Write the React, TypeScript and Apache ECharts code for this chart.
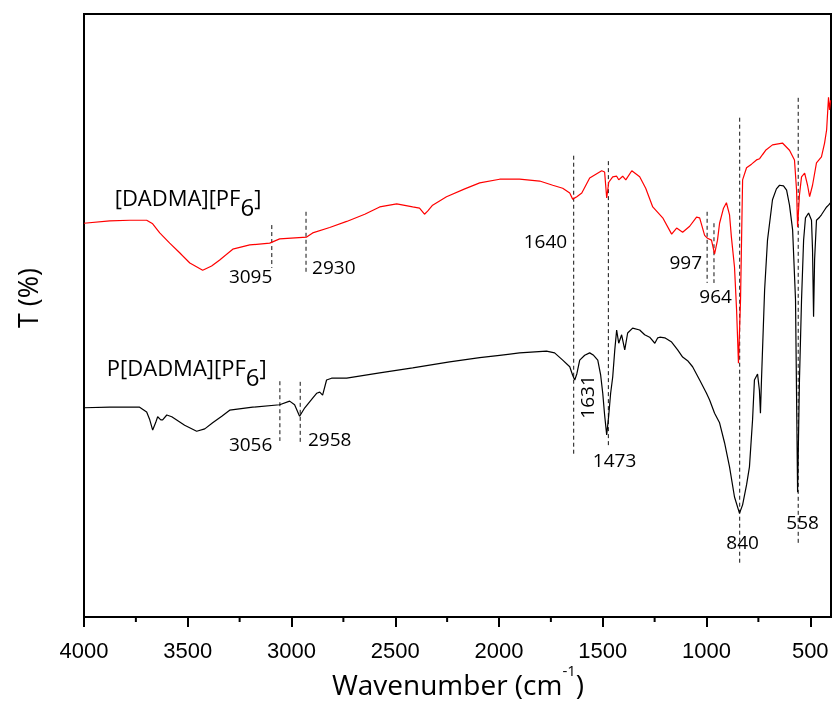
import React, { useEffect, useRef } from "react";
import * as echarts from "echarts";

// ---- Data (wavenumber in cm-1, transmittance in arbitrary %) ----
const redWave = [4000,3876,3779,3698,3669,3635,3587,3539,3490,3428,3385,3346,3283,3201,3105,3057,2927,2898,2816,2734,2647,2575,2493,2416,2383,2359,2344,2320,2253,2165,2093,1997,1901,1804,1741,1693,1659,1645,1625,1601,1563,1505,1491,1481,1471,1452,1433,1423,1404,1389,1360,1322,1293,1259,1211,1168,1144,1115,1081,1048,1033,1009,995,976,961,947,937,918,904,889,880,865,855,846,836,826,807,783,759,744,715,682,634,600,576,566,561,552,542,527,513,503,489,470,446,431,421,412,407,402];
const redT = [65.3,65.7,65.8,65.8,65.2,63.7,62.0,60.4,58.7,57.5,58.2,59.2,61.0,61.7,62.0,62.7,63.0,63.7,64.6,65.6,66.8,68.0,68.5,68.0,67.8,66.8,67.3,68.3,69.7,71.0,72.0,72.6,72.6,72.3,71.6,71.1,70.3,69.3,69.7,70.3,72.8,74.0,73.8,69.5,72.1,73.0,73.1,72.5,73.1,72.5,74.0,73.0,71.1,68.0,66.2,63.5,64.5,63.8,64.8,66.3,66.2,63.3,62.8,62.5,60.2,62.5,65.3,67.8,68.7,66.7,63.0,58.0,50.9,42.1,52.6,72.5,74.5,75.1,75.8,76.0,77.4,78.3,78.6,77.4,75.8,70.8,64.7,70.0,73.0,73.6,71.6,69.7,71.6,75.3,76.3,78.6,80.8,86.2,84.1,85.7];

const blackWave = [4000,3876,3732,3698,3683,3669,3655,3645,3630,3621,3601,3577,3515,3457,3418,3380,3336,3298,3187,3057,3009,2985,2961,2936,2898,2879,2864,2850,2831,2807,2734,2575,2416,2238,2093,1997,1901,1771,1732,1693,1659,1645,1635,1625,1611,1587,1563,1544,1524,1510,1500,1491,1481,1471,1462,1452,1442,1433,1423,1409,1394,1380,1356,1322,1298,1274,1249,1235,1225,1201,1168,1139,1115,1091,1067,1033,1000,985,961,937,913,889,865,841,826,807,793,778,769,754,745,740,735,730,720,706,682,663,648,629,614,600,585,571,561,552,542,532,523,508,494,489,484,479,470,455,446,431,421,412,402];
const blackT = [34.7,34.8,34.8,34.0,32.7,31.0,32.2,33.2,32.7,32.7,33.5,33.2,31.8,30.8,31.2,32.2,33.3,34.3,34.8,35.2,35.8,35.2,33.3,34.7,36.3,37.1,37.3,36.8,39.3,39.6,39.6,40.5,41.3,42.3,43.0,43.4,43.8,44.1,43.8,42.6,41.5,40.1,39.3,40.3,42.6,43.4,43.8,43.4,42.6,40.1,37.1,33.5,30.2,33.5,37.1,39.8,44.3,47.6,45.4,46.8,44.3,47.1,47.9,47.6,46.8,46.4,45.4,46.3,46.4,46.3,45.6,44.3,43.1,42.5,41.5,39.3,37.1,36.0,33.8,32.2,28.9,24.9,19.9,17.2,18.6,21.9,24.9,32.7,39.3,40.3,37.6,33.8,39.3,44.3,54.2,62.5,69.2,71.0,71.6,71.5,70.8,68.3,64.2,52.6,20.7,39.3,52.6,62.5,66.2,67.0,65.8,60.9,49.8,59.3,65.8,66.3,66.7,67.5,68.0,68.3,68.7];

// dashed peak markers
const markWave = [3095, 2930, 3056, 2958, 1640, 1473, 997, 964, 840, 558];
const markTop = [65.0, 67.2, 39.1, 39.0, 76.5, 75.6, 67.2, 65.3, 82.8, 86.1];
const markBottom = [57.9, 57.2, 29.2, 28.9, 26.9, 28.2, 55.4, 55.4, 9.0, 12.3];

// peak labels
const peakText = ["3095", "2930", "3056", "2958", "1640", "1631", "1473", "997", "964", "840", "558"];
const peakWave = [3197, 2796, 3197, 2816, 1776, 1574, 1443, 1100, 956, 826, 537];
const peakT = [56.6, 58.0, 28.7, 29.5, 62.4, 36.5, 26.0, 58.9, 53.2, 12.4, 15.8];
const peakRotate = [0, 0, 0, 0, 0, 90, 0, 0, 0, 0, 0];

// sample names
const sampleNames = ["{a|[DADMA][PF}{b|6}{a|]}", "{a|P[DADMA][PF}{b|6}{a|]}"];
const sampleWave = [3852, 3890];
const sampleT = [68.8, 40.6];

const majorTicks = [500, 1000, 1500, 2000, 2500, 3000, 3500, 4000];
const minorTicks = [750, 1250, 1750, 2250, 2750, 3250, 3750];

const LABEL_FONT = "'Open Sans', sans-serif";

export default function App() {
  const ref = useRef<HTMLDivElement>(null);
  useEffect(() => {
    if (!ref.current) return;
    const chart = echarts.init(ref.current, null, { renderer: "svg" });
    const zip = (w: number[], t: number[]) => w.map((x, i) => [x, t[i]]);

    const dashedSeries = markWave.map((w, i) => ({
      type: "line",
      data: [[w, markTop[i]], [w, markBottom[i]]],
      showSymbol: false,
      silent: true,
      lineStyle: { color: "#111", width: 1, type: [4, 3] },
      z: 1,
    }));

    chart.setOption({
      animation: false,
      grid: { left: 84, right: 6, top: 14, bottom: 101, show: true, borderColor: "#000", borderWidth: 2, backgroundColor: "transparent" },
      xAxis: {
        type: "value",
        min: 400,
        max: 4000,
        inverse: true,
        axisLine: { show: true, lineStyle: { color: "#000", width: 2 } },
        axisTick: { show: true, length: 10, lineStyle: { color: "#000", width: 2 }, customValues: majorTicks },
        axisLabel: {
          color: "#000",
          fontSize: 22,
          fontFamily: "'Liberation Sans', Arial, sans-serif",
          margin: 22,
          customValues: majorTicks,
          formatter: (v: number) => String(v),
        },
        splitLine: { show: false },
      },
      yAxis: {
        type: "value",
        min: 0,
        max: 100,
        axisLine: { show: false },
        axisTick: { show: false },
        axisLabel: { show: false },
        splitLine: { show: false },
      },
      graphic: [
        {
          type: "text",
          x: 27,
          y: 298,
          rotation: Math.PI / 2,
          style: { text: "T (%)", fill: "#000", font: `27px ${LABEL_FONT}`, align: "center", verticalAlign: "middle" },
        },
        {
          type: "text",
          x: 458,
          y: 680,
          style: {
            text: "{a|Wavenumber (cm}{s|-1}{a|)}",
            align: "center",
            verticalAlign: "middle",
            rich: {
              a: { fontSize: 28, fontFamily: LABEL_FONT, fill: "#000", lineHeight: 36, verticalAlign: "bottom" },
              s: { fontSize: 15, fontFamily: LABEL_FONT, fill: "#000", lineHeight: 20, verticalAlign: "top" },
            },
          },
        },
      ],
      series: [
        ...dashedSeries,
        {
          type: "line",
          name: "[DADMA][PF6]",
          data: zip(redWave, redT),
          showSymbol: false,
          lineStyle: { color: "#ff0000", width: 1.2 },
          z: 3,
        },
        {
          type: "line",
          name: "P[DADMA][PF6]",
          data: zip(blackWave, blackT),
          showSymbol: false,
          lineStyle: { color: "#000", width: 1.2 },
          z: 3,
        },
        {
          type: "scatter",
          symbolSize: 0,
          silent: true,
          itemStyle: { color: "transparent", opacity: 1 },
          data: peakText.map((t, i) => ({
            value: [peakWave[i], peakT[i]],
            label: { formatter: t, rotate: peakRotate[i] },
          })),
          label: {
            show: true,
            position: "inside",
            color: "#000",
            fontSize: 19,
            fontFamily: LABEL_FONT,
          },
          z: 5,
        },
        {
          type: "scatter",
          symbolSize: 0,
          silent: true,
          itemStyle: { color: "transparent", opacity: 1 },
          data: sampleNames.map((t, i) => ({
            value: [sampleWave[i], sampleT[i]],
            label: { formatter: t },
          })),
          label: {
            show: true,
            position: "right",
            distance: 0,
            color: "#000",
            rich: {
              a: { fontSize: 22, fontFamily: LABEL_FONT, color: "#000", lineHeight: 22, verticalAlign: "top" },
              b: { fontSize: 24, fontFamily: LABEL_FONT, color: "#000", lineHeight: 32, verticalAlign: "bottom" },
            },
          },
          z: 5,
        },
        {
          type: "custom",
          silent: true,
          clip: false,
          data: minorTicks.map((v) => [v, 0]),
          renderItem: (params: any, api: any) => {
            const p = api.coord([api.value(0), 0]);
            return {
              type: "line",
              shape: { x1: p[0], y1: p[1], x2: p[0], y2: p[1] + 5 },
              style: { stroke: "#000", lineWidth: 2 },
            };
          },
          z: 6,
        },
      ],
    });
    return () => chart.dispose();
  }, []);
  return <div ref={ref} style={{ position: "fixed", left: 0, top: 0, width: 837, height: 718 }} />;
}
